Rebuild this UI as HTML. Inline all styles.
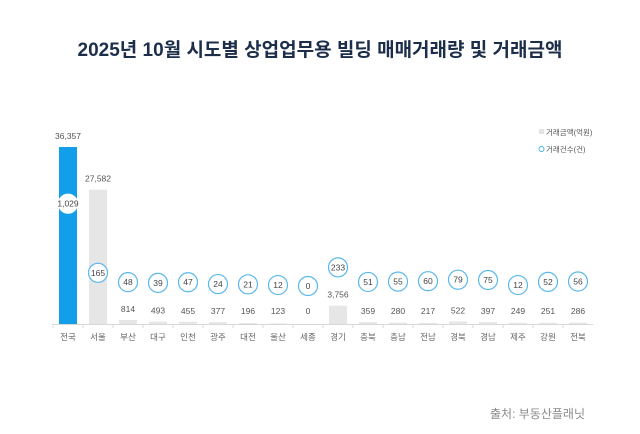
<!DOCTYPE html>
<html><head><meta charset="utf-8"><style>
body{margin:0;background:#fff;width:640px;height:429px;overflow:hidden;font-family:"Liberation Sans","Noto Sans CJK KR",sans-serif}
</style></head><body>
<svg width="640" height="429" style="font-family:'Liberation Sans','Noto Sans CJK KR',sans-serif">
<text x="320" y="56" text-anchor="middle" font-size="19" font-weight="bold" fill="#1c2e4a">2025년 10월 시도별 상업업무용 빌딩 매매거래량 및 거래금액</text>
<g>
<rect x="539" y="129" width="5" height="5" fill="#e3e3e3"/>
<text x="546" y="135" font-size="7.5" fill="#555">거래금액(억원)</text>
<circle cx="541.5" cy="149" r="2.5" fill="none" stroke="#4ab0e8" stroke-width="1"/>
<text x="546" y="152" font-size="7.5" fill="#555">거래건수(건)</text>
</g>
<g id="plot"></g>
<text x="585" y="418" text-anchor="end" font-size="12" fill="#8a8a8a">출처: 부동산플래닛</text>
</svg>
<script>
const categories=["전국","서울","부산","대구","인천","광주","대전","울산","세종","경기","충북","충남","전남","경북","경남","제주","강원","전북"];
const amounts=[36357,27582,814,493,455,377,196,123,0,3756,359,280,217,522,397,249,251,286];
const counts=[1029,165,48,39,47,24,21,12,0,233,51,55,60,79,75,12,52,56];
const NS="http://www.w3.org/2000/svg";
const g=document.getElementById('plot');
const base=324,x0=53,step=30,ampk=177/36357,cntBase=286,cntK=0.08;
const xC=i=>x0+15+i*step, yA=v=>base-v*ampk, yC=v=>cntBase-v*cntK;
function mk(t,a,p){const e=document.createElementNS(NS,t);for(const k in a)e.setAttribute(k,a[k]);(p||g).appendChild(e);return e;}
const ax=mk('line',{x1:x0,x2:x0+step*categories.length,y1:base+0.5,y2:base+0.5,stroke:'#d8d8d8'});


categories.forEach((c,i)=>{
 const x=xC(i);
 const tk=mk('line',{x1:x0+i*step,x2:x0+i*step,y1:base,y2:base+4,stroke:'#d8d8d8'});
 
 
 const lb=mk('text',{x:x,y:base+16,'text-anchor':'middle','font-size':8.5,fill:'#666'});lb.textContent=c;
 
 
 const y=yA(amounts[i]);
 const b=mk('rect',{x:x-9,y:y,width:18,height:Math.max(base-y,0.0001),fill:i===0?'#129ee8':'#e6e6e6'});
 
 
 const vl=mk('text',{x:x,y:Math.min(y,base-2)-8,'text-anchor':'middle','font-size':8.5,fill:'#555'});vl.textContent=amounts[i].toLocaleString('en-US');
 
 
 const cy=yC(counts[i]);
 const ci=mk('circle',{cx:x,cy:cy,r:9.5,fill:'#fff',stroke:i===0?'#fff':'#5ab8ec','stroke-width':1.2});
 
 
 const cl=mk('text',{x:x,y:cy+3,'text-anchor':'middle','font-size':8.5,fill:'#444'});cl.textContent=counts[i].toLocaleString('en-US');
 
 
});
</script>
</body></html>
